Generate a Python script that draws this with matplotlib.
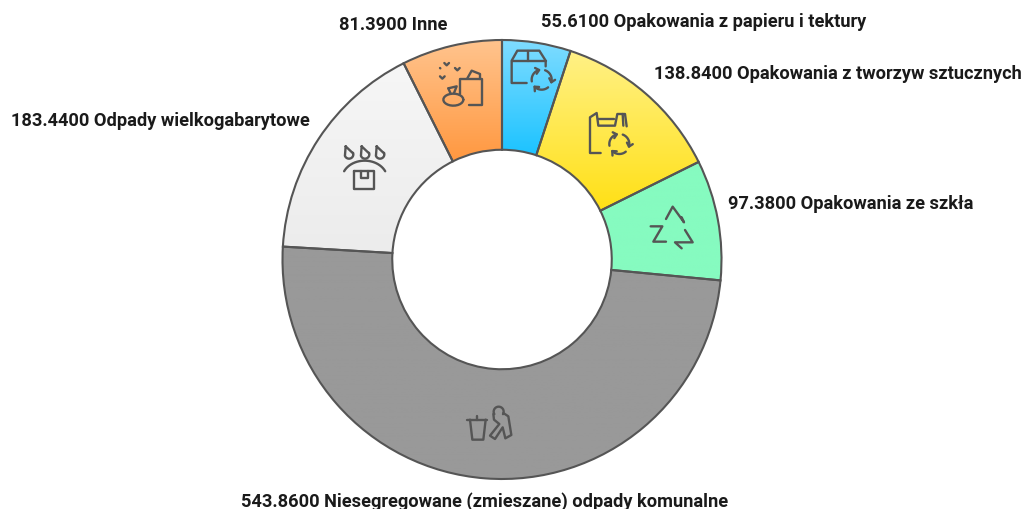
"""
Donut chart of municipal waste amounts, with gradient wedges and line icons.
"""
import numpy as np
import matplotlib
matplotlib.use('Agg')
import matplotlib.pyplot as plt

# data, clockwise from 12 o'clock
names = ['Opakowania z papieru i tektury', 'Opakowania z tworzyw sztucznych',
         'Opakowania ze szkła', 'Niesegregowane (zmieszane) odpady komunalne',
         'Odpady wielkogabarytowe', 'Inne']
values = [55.61, 138.84, 97.38, 543.86, 183.44, 81.39]

top_colors = ['#80DCFF', '#FFF186', '#86FBC0', '#999999', '#F6F6F6', '#FFC48E']
bottom_colors = ['#1CC3FF', '#FFE015', '#86FBC0', '#999999', '#ECECEC', '#FF9840']

# label anchors in image pixels: left x, centre y
label_pos = [(541, 22), (654, 74), (728, 204), (241, 502), (11, 121), (339, 25)]

W, H = 1026, 510
CX, CY = 502, 260.5
R = 219.5
LINE = '#555555'

plt.rcParams['font.family'] = ['Roboto', 'DejaVu Sans']

fig = plt.figure(figsize=(W / 100, H / 100), dpi=100)
ax = fig.add_axes([0, 0, 1, 1])

wedges, _ = ax.pie(values, radius=R, startangle=90, counterclock=False,
                   wedgeprops=dict(width=R / 2, edgecolor=LINE, linewidth=1.5, facecolor='none', zorder=3))


def to_rgb(c):
    return np.array(matplotlib.colors.to_rgb(c))


# fill each wedge with a vertical gradient clipped to its shape
for w, c0, c1 in zip(wedges, top_colors, bottom_colors):
    bb = w.get_path().get_extents(w.get_patch_transform())
    t = np.linspace(0, 1, 256)[:, None, None]
    grad = to_rgb(c0) * (1 - t) + to_rgb(c1) * t
    im = ax.imshow(grad, extent=[bb.x0, bb.x1, bb.y0, bb.y1], origin='upper', aspect='auto', zorder=2)
    im.set_clip_path(w)

ax.set_xlim(-CX, W - CX)
ax.set_ylim(CY - H, CY)
ax.set_aspect('equal')
ax.axis('off')


def stroke(pts, origin, scale=1 / 3, lw=1.7):
    pts = np.array(pts, dtype=float)
    x = origin[0] + pts[:, 0] * scale - CX
    y = CY - (origin[1] + pts[:, 1] * scale)
    ax.plot(x, y, color=LINE, lw=lw, solid_capstyle='round', solid_joinstyle='round', zorder=4)


def arc(cx, cy, r, a0, a1, n=24, ry=None):
    a = np.radians(np.linspace(a0, a1, n))
    ry = r if ry is None else ry
    return np.column_stack([cx + r * np.cos(a), cy + ry * np.sin(a)])


def recycle(cx, cy, r, origin):
    # three arcs with small arrow heads
    for a0 in (-70, 50, 170):
        p = arc(cx, cy, r, a0, a0 + 85)
        stroke(p, origin)
        end = p[-1]
        ang = np.radians(a0 + 85)
        tang = np.array([-np.sin(ang), np.cos(ang)])
        norm = np.array([np.cos(ang), np.sin(ang)])
        stroke([end - tang * 10 + norm * 9, end, end - tang * 10 - norm * 9], origin)


# icons, each in its own crop coordinates
o = (380, 30)
# box
stroke([(440, 162), (395, 162), (395, 95), (412, 65), (478, 65), (497, 95), (497, 112)], o)
stroke([(395, 95), (497, 95)], o)
stroke([(445, 65), (445, 95)], o)
recycle(485, 152, 30, o)
# bag and sack
stroke([(240, 195), (240, 150), (305, 150), (305, 228), (268, 228)], o)
stroke([(262, 148), (275, 125), (300, 135), (300, 150)], o)
stroke([(205, 178), (230, 172), (222, 192)], o)
stroke([(205, 178), (212, 194)], o)
stroke(arc(220, 212, 30, 0, 360, ry=18), o)
for hx, hy in [(200, 105), (232, 120), (187, 145)]:
    stroke([(hx - 7, hy - 3), (hx, hy + 4), (hx + 7, hy - 3)], o)
stroke([(180, 117), (181, 118)], o)
# plastic bag
stroke([(662, 372), (630, 372), (630, 265), (650, 252), (655, 290), (705, 290), (712, 255), (735, 255), (740, 292)], o)
stroke([(655, 270), (702, 270)], o)
stroke([(728, 255), (730, 290)], o)
recycle(718, 345, 30, o)
# glass recycling triangle
stroke([(858, 570), (878, 533), (912, 580), (905, 565)], o)
stroke([(812, 592), (847, 592), (820, 638), (858, 638)], o)
stroke([(915, 603), (938, 640), (885, 640), (905, 658)], o)

o = (300, 130)
for dx in (147, 195, 240):
    stroke([(dx - 10, 52), (dx + 11, 72)] + [tuple(p) for p in arc(dx, 76, 13, -20, 160)] + [(dx - 10, 52)], o)
stroke(arc(194, 150, 68, 205, 335, ry=55), o)
stroke([(163, 125), (163, 180), (222, 180), (222, 125), (163, 125)], o)
stroke([(182, 125), (182, 148), (203, 148), (203, 125)], o)

o = (440, 390)
stroke([(82, 92), (142, 92)], o)
stroke([(90, 92), (97, 152), (130, 152), (137, 92)], o)
stroke([(112, 80), (112, 92)], o)
stroke(arc(176, 68, 15, 150, 390), o)
stroke([(160, 75), (162, 92), (178, 105), (150, 140), (165, 150), (188, 115), (196, 148), (214, 138), (205, 82), (190, 72)], o)

# labels
for name, val, (px, py) in zip(names, values, label_pos):
    ax.text(px - CX, CY - py, f'{val:.4f} {name}', fontsize=13.15, fontweight='bold',
            color='#1a1a1a', ha='left', va='center')

fig.savefig('out.png', dpi=100)
